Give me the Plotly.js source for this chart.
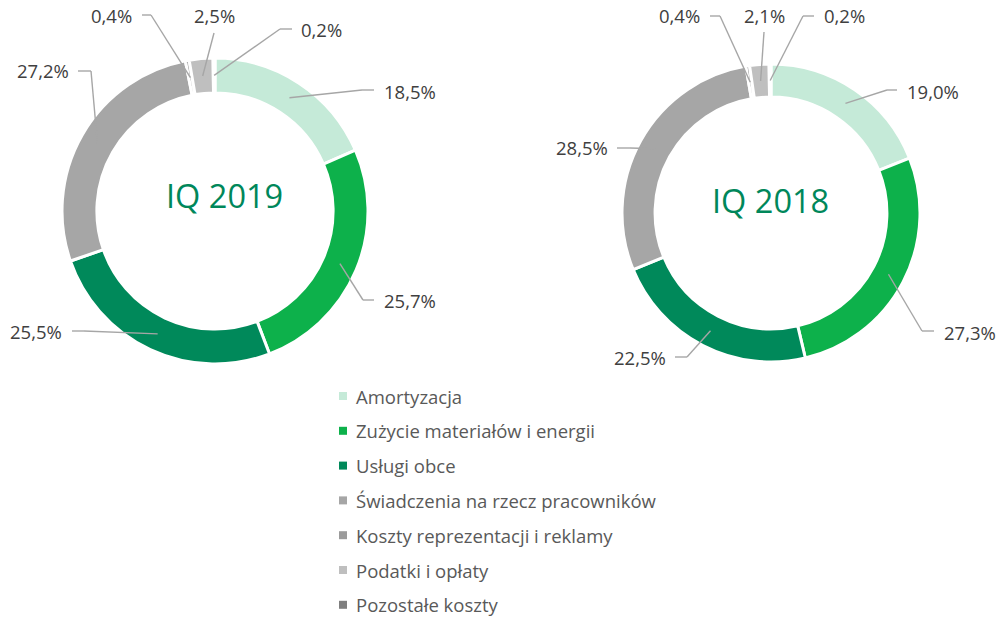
<!DOCTYPE html>
<html><head><meta charset="utf-8">
<script src="https://cdn.plot.ly/plotly-3.0.1.min.js"></script>
<style>html,body{margin:0;padding:0;background:#fff;overflow:hidden}</style>
</head><body><div id="chart" style="width:1002px;height:617px"></div>
<script>
// ---- data ----
const categories = ["Amortyzacja", "Zużycie materiałów i energii", "Usługi obce",
  "Świadczenia na rzecz pracowników", "Koszty reprezentacji i reklamy", "Podatki i opłaty", "Pozostałe koszty"];
const values2019 = [18.5, 25.7, 25.5, 27.2, 0.4, 2.5, 0.2];
const values2018 = [19.0, 27.3, 22.5, 28.5, 0.4, 2.1, 0.2];
const chartTitles = ["IQ 2019", "IQ 2018"];

// ---- style / layout config ----
const W = 1002, H = 617;
const colors = ["#C5EAD8", "#0DB14B", "#00895A", "#A6A6A6", "#9B9B9B", "#BFBFBF", "#7F7F7F"];
const pies = [
  {values: values2019, title: chartTitles[0], cx: 215, cy: 211, r: 153, hole: 0.772, titleX: 224, titleDy: -16},
  {values: values2018, title: chartTitles[1], cx: 771, cy: 213, r: 149, hole: 0.778, titleX: 770, titleDy: -13}
];
// label placement (pixels): end of leader line (ex,ey), bend x (bx or null), text anchor
const labelLayouts = [
  [
    {ex: 374, ey: 90, bx: 362, tx: 382, ty: 91, xa: "left"},
    {ex: 374, ey: 300, bx: 363, tx: 382, ty: 300, xa: "left"},
    {ex: 72, ey: 331, bx: 84, tx: 64, ty: 331, xa: "right"},
    {ex: 78, ey: 71, bx: 91, tx: 71, ty: 71, xa: "right"},
    {ex: 142, ey: 15, bx: 151, tx: 134, ty: 16, xa: "right"},
    {ex: 214, ey: 33, bx: null, tx: 214, ty: 16, xa: "center"},
    {ex: 292, ey: 29, bx: 280, tx: 299, ty: 30, xa: "left"}
  ],
  [
    {ex: 897, ey: 90, bx: 887, tx: 905, ty: 91, xa: "left"},
    {ex: 934, ey: 331, bx: 922, tx: 942, ty: 332, xa: "left"},
    {ex: 675, ey: 357, bx: 687, tx: 668, ty: 357, xa: "right"},
    {ex: 617, ey: 148, bx: 630, tx: 610, ty: 147, xa: "right"},
    {ex: 710, ey: 16, bx: 720, tx: 702, ty: 16, xa: "right"},
    {ex: 764, ey: 32, bx: null, tx: 764, ty: 16, xa: "center"},
    {ex: 814, ey: 16, bx: 803, tx: 822, ty: 16, xa: "left"}
  ]
];
const legendX = 339, legendTextX = 354, legendY0 = 396, legendDy = 34.8;

const px = x => x / W;
const py = y => 1 - y / H;
const fmt = v => v.toFixed(1).replace(".", ",") + "%";
const FONT = "Open Sans, Liberation Sans, sans-serif";

const traces = [], shapes = [], annotations = [];
const lineStyle = {color: "#A6A6A6", width: 1.4};

pies.forEach((p, k) => {
  traces.push({
    type: "pie", values: p.values, labels: categories, sort: false, direction: "clockwise",
    rotation: 0, hole: p.hole, textinfo: "none", hoverinfo: "label+percent",
    marker: {colors: colors, line: {color: "#FFFFFF", width: 3}},
    domain: {x: [px(p.cx - p.r), px(p.cx + p.r)], y: [py(p.cy + p.r), py(p.cy - p.r)]},
    showlegend: false
  });
  annotations.push({
    text: p.title, x: px(p.titleX), y: py(p.cy + p.titleDy), xref: "paper", yref: "paper",
    showarrow: false, xanchor: "center", yanchor: "middle",
    font: {family: FONT, size: 32.5, color: "#00875A"}
  });
  const total = p.values.reduce((a, b) => a + b, 0);
  const rm = p.r * (1 + p.hole) / 2;
  let cum = 0;
  p.values.forEach((v, i) => {
    const th = (cum + v / 2) / total * 2 * Math.PI;
    cum += v;
    const sx = p.cx + rm * Math.sin(th), sy = p.cy - rm * Math.cos(th);
    const L = labelLayouts[k][i];
    const bx = L.bx === null ? L.ex : L.bx;
    shapes.push({type: "line", xref: "paper", yref: "paper", x0: px(sx), y0: py(sy), x1: px(bx), y1: py(L.ey), line: lineStyle});
    if (L.bx !== null) {
      shapes.push({type: "line", xref: "paper", yref: "paper", x0: px(bx), y0: py(L.ey), x1: px(L.ex), y1: py(L.ey), line: lineStyle});
    }
    annotations.push({
      text: fmt(v), x: px(L.tx), y: py(L.ty), xref: "paper", yref: "paper", showarrow: false,
      xanchor: L.xa, yanchor: "middle", font: {family: FONT, size: 18.5, color: "#404040"}
    });
  });
});

// custom legend
categories.forEach((c, i) => {
  const y = legendY0 + i * legendDy;
  shapes.push({type: "rect", xref: "paper", yref: "paper", x0: px(legendX), x1: px(legendX + 8),
    y0: py(y - 4), y1: py(y + 4), fillcolor: colors[i], line: {width: 0}});
  annotations.push({
    text: c, x: px(legendTextX), y: py(y), xref: "paper", yref: "paper", showarrow: false,
    xanchor: "left", yanchor: "middle", font: {family: FONT, size: 18.5, color: "#595959"}
  });
});

const layout = {
  width: W, height: H, margin: {l: 0, r: 0, t: 0, b: 0},
  paper_bgcolor: "#FFFFFF", plot_bgcolor: "#FFFFFF",
  showlegend: false, shapes: shapes, annotations: annotations
};
Plotly.newPlot("chart", traces, layout, {displayModeBar: false, staticPlot: true});
</script>
</body></html>
